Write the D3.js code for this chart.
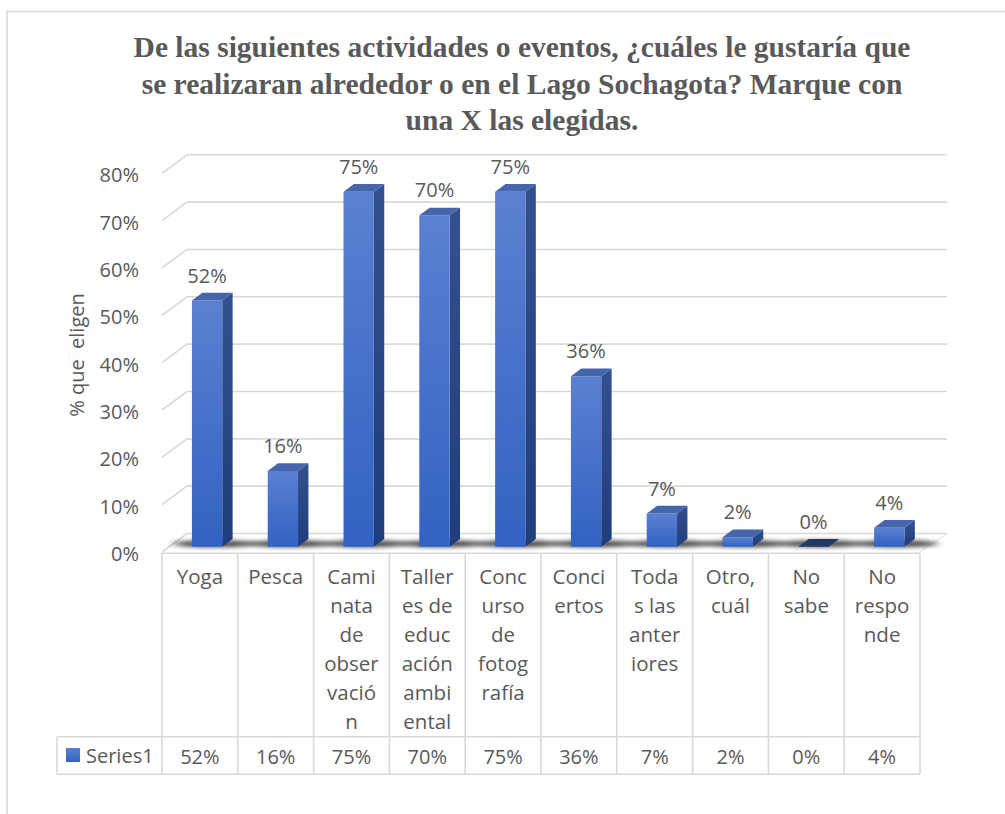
<!DOCTYPE html>
<html>
<head>
<meta charset="utf-8">
<script src="https://cdn.jsdelivr.net/npm/d3@7"></script>
<style>
  html, body { margin: 0; padding: 0; background: #fff; }
  svg { display: block; }
  text { font-family: "Open Sans", sans-serif; fill: #595959; }
</style>
</head>
<body>
<svg id="chart" width="1005" height="814"></svg>
<script>
// ---- data ----
const categories = ["Yoga", "Pesca", "Caminata de observación", "Talleres de educación ambiental",
  "Concurso de fotografía", "Conciertos", "Todas las anteriores", "Otro, cuál", "No sabe", "No responde"];
const categoryLines = [
  ["Yoga"], ["Pesca"], ["Cami", "nata", "de", "obser", "vació", "n"],
  ["Taller", "es de", "educ", "ación", "ambi", "ental"],
  ["Conc", "urso", "de", "fotog", "rafía"], ["Conci", "ertos"],
  ["Toda", "s las", "anter", "iores"], ["Otro,", "cuál"], ["No", "sabe"], ["No", "respo", "nde"]
];
const values = [0.52, 0.16, 0.75, 0.70, 0.75, 0.36, 0.07, 0.02, 0.00, 0.04];
const seriesName = "Series1";
const yTicks = [0, 0.1, 0.2, 0.3, 0.4, 0.5, 0.6, 0.7, 0.8];
const yTitle = "% que  eligen";
const titleLines = [
  "De las siguientes actividades o eventos, ¿cuáles le gustaría que",
  "se realizaran alrededor o en el Lago Sochagota? Marque con",
  "una X las elegidas."
];

// ---- layout ----
const svg = d3.select("#chart");
const fmt = d3.format(".0%");
const x = d3.scaleBand().domain(categories).range([162, 920]).paddingInner(0).paddingOuter(0);
const y = d3.scaleLinear().domain([0, 0.8]).range([552, 173.3]);
const DEPTH_X = 25, DEPTH_Y = -18.5;
const proj = (px, py, d) => [px + DEPTH_X * d, py + DEPTH_Y * d];
const barFront = 0.287, barBack = 0.703;
const barW = x.bandwidth() / 2.5;
const grid = "#d9d9d9";

// defs
const defs = svg.append("defs");
const gFront = defs.append("linearGradient").attr("id", "gFront").attr("x1", 0).attr("y1", 0).attr("x2", 0).attr("y2", 1);
gFront.append("stop").attr("offset", "0%").attr("stop-color", "#5b80d1");
gFront.append("stop").attr("offset", "100%").attr("stop-color", "#3262c2");
const gSide = defs.append("linearGradient").attr("id", "gSide").attr("x1", 0).attr("y1", 0).attr("x2", 0).attr("y2", 1);
gSide.append("stop").attr("offset", "0%").attr("stop-color", "#34518f");
gSide.append("stop").attr("offset", "100%").attr("stop-color", "#1f3d7a");
const blur = defs.append("filter").attr("id", "blur").attr("x", "-50%").attr("y", "-200%").attr("width", "200%").attr("height", "500%");
blur.append("feGaussianBlur").attr("stdDeviation", "4 2");

// outer frame
svg.append("path").attr("d", "M7,814 V11.5 H1005").attr("fill", "none").attr("stroke", grid).attr("stroke-width", 1.5);

// title
svg.append("text").attr("x", 522).attr("y", 57)
  .style("font-family", "'Liberation Serif', 'Times New Roman', serif")
  .style("font-weight", "bold").style("font-size", "29.5px")
  .attr("text-anchor", "middle")
  .selectAll("tspan").data(titleLines).join("tspan")
  .attr("x", 522).attr("dy", (d, i) => i === 0 ? 0 : 36.5).text(d => d);

// gridlines (back wall + left wall diagonals)
const x0 = x.range()[0], x1 = x.range()[1];
svg.append("g").selectAll("path").data(yTicks).join("path")
  .attr("d", t => {
    const a = proj(x0, y(t), 0), b = proj(x0, y(t), 1), c = proj(x1 + 2, y(t), 1);
    return `M${a}L${b}L${c}`;
  })
  .attr("fill", "none").attr("stroke", grid).attr("stroke-width", 1.6);

// floor right edge
{
  const a = proj(x1, y(0), 0), b = proj(x1 + 2, y(0), 1);
  svg.append("path").attr("d", `M${a}L${b}`).attr("stroke", "#ececec").attr("stroke-width", 1.2);
}

// y tick labels
svg.append("g").selectAll("text").data(yTicks).join("text")
  .attr("x", 139).attr("y", t => y(t) + 2).attr("dy", "0.35em")
  .attr("text-anchor", "end").style("font-size", "20px").text(t => fmt(t));

// y axis title
svg.append("text").attr("transform", "translate(77,355) rotate(-90)")
  .attr("text-anchor", "middle").attr("dy", "0.35em")
  .style("font-size", "20px").style("white-space", "pre").text(yTitle);

// bars
const data = categories.map((c, i) => ({ c, v: values[i], lines: categoryLines[i] }));
const bars = svg.append("g").selectAll("g").data(data).join("g");

// shadows
bars.append("ellipse")
  .attr("cx", d => proj(x(d.c) + x.bandwidth() / 2, y(0), 0.5)[0] + 2)
  .attr("cy", d => proj(0, y(0), 0.5)[1] + 1)
  .attr("rx", 42).attr("ry", 3.4)
  .attr("fill", "#000").attr("opacity", 0.7).attr("filter", "url(#blur)");

function face(pts) { return "M" + pts.map(p => p.join(",")).join("L") + "Z"; }
bars.each(function (d) {
  const g = d3.select(this);
  const cx = x(d.c) + x.bandwidth() / 2;
  const l = cx - barW / 2, r = cx + barW / 2;
  const fl = proj(l, y(d.v), barFront), fr = proj(r, y(d.v), barFront);
  const bl = proj(l, y(d.v), barBack), br = proj(r, y(d.v), barBack);
  const flb = proj(l, y(0), barFront), frb = proj(r, y(0), barFront);
  const brb = proj(r, y(0), barBack);
  if (d.v > 0) {
    g.append("path").attr("d", face([fr, br, brb, frb])).attr("fill", "url(#gSide)");
    g.append("path").attr("d", face([fl, fr, frb, flb])).attr("fill", "url(#gFront)");
  }
  g.append("path").attr("d", face([fl, fr, br, bl])).attr("fill", d.v > 0 ? "#4565ad" : "#1f3864");
  g.append("text").attr("x", (fl[0] + fr[0]) / 2).attr("y", fl[1] - 25).attr("dy", "0.35em")
    .attr("text-anchor", "middle").style("font-size", "20px").text(fmt(d.v));
});

// data table
const tTop = 553.3, tMid = 736.7, tBot = 774.3, legL = 57;
const tbl = svg.append("g").attr("fill", "none").attr("stroke", grid).attr("stroke-width", 1.6);
tbl.append("path").attr("d", `M${x0},${tTop}H${x1}M${legL},${tMid}H${x1}M${legL},${tBot}H${x1}M${legL},${tMid}V${tBot}`);
tbl.selectAll("line").data([...categories.map(c => x(c)), x1]).join("line")
  .attr("x1", d => d).attr("x2", d => d).attr("y1", tTop).attr("y2", tBot);

// category labels
svg.append("g").selectAll("text").data(data).join("text")
  .attr("text-anchor", "middle").style("font-size", "20.5px")
  .each(function (d) {
    d3.select(this).selectAll("tspan").data(d.lines).join("tspan")
      .attr("x", x(d.c) + x.bandwidth() / 2)
      .attr("y", (s, i) => 577 + i * 29).attr("dy", "0.35em").text(s => s);
  });

// values row
svg.append("g").selectAll("text").data(data).join("text")
  .attr("x", d => x(d.c) + x.bandwidth() / 2).attr("y", 756.5).attr("dy", "0.35em")
  .attr("text-anchor", "middle").style("font-size", "20px").text(d => fmt(d.v));

// legend key
svg.append("rect").attr("x", 66).attr("y", 748).attr("width", 14).attr("height", 14).attr("fill", "url(#gFront)");
svg.append("text").attr("x", 86).attr("y", 755.5).attr("dy", "0.35em").style("font-size", "20px").text(seriesName);
</script>
</body>
</html>
